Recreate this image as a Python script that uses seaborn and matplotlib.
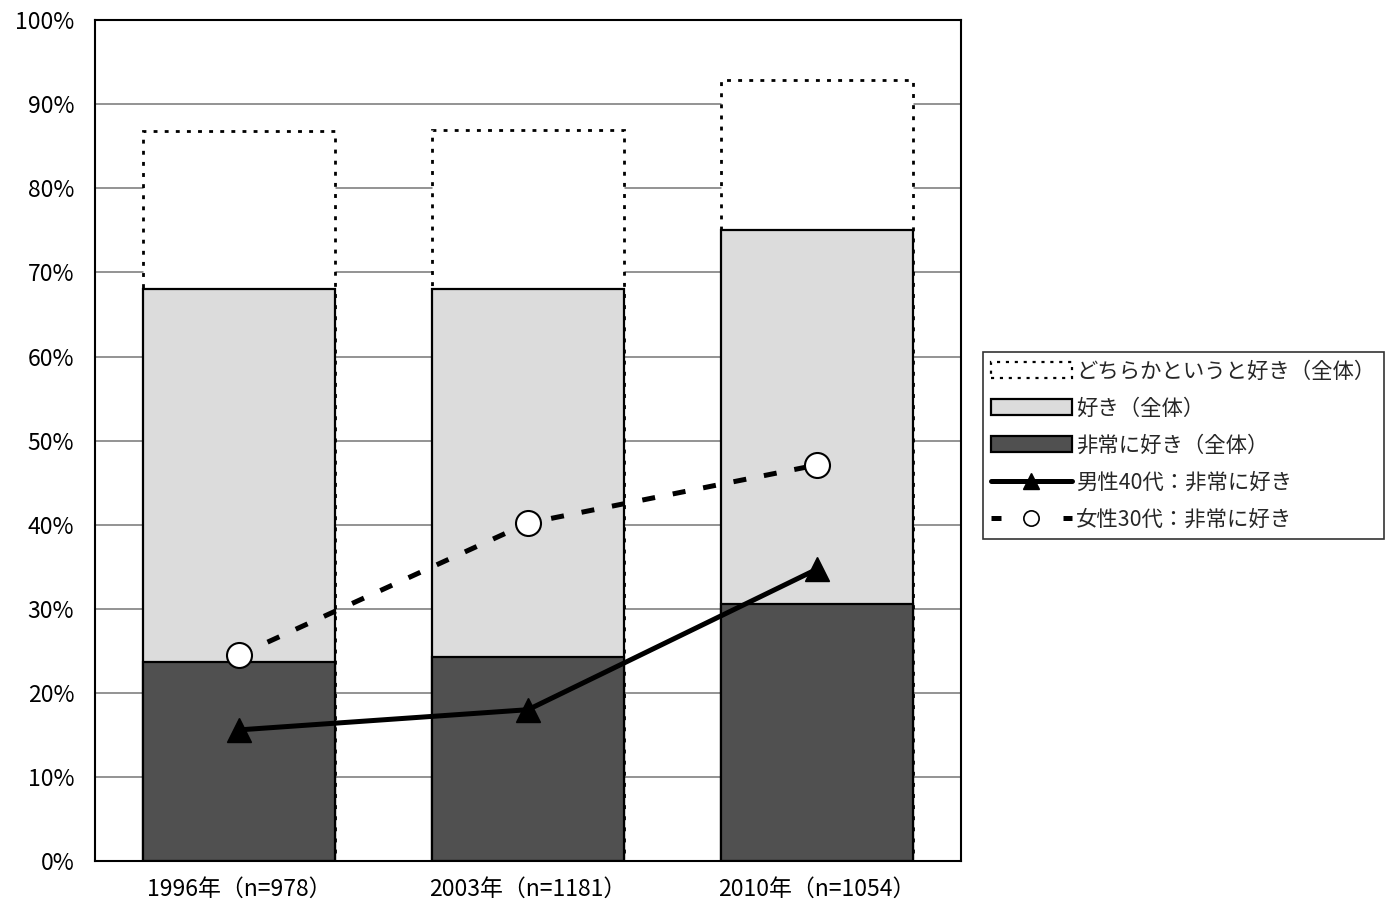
import matplotlib
matplotlib.use("Agg")
import matplotlib.pyplot as plt
import seaborn as sns
import pandas as pd
import numpy as np
from matplotlib.patches import Patch
from matplotlib.lines import Line2D
from matplotlib.ticker import FixedLocator, NullFormatter, FuncFormatter

years = ["1996年（n=978）", "2003年（n=1181）", "2010年（n=1054）"]
somewhat_like = [86.8, 87.0, 92.9]    # どちらかというと好き（全体）
like = [68.0, 68.0, 75.1]             # 好き（全体）
very_like = [23.7, 24.3, 30.6]        # 非常に好き（全体）
male_40s = [15.6, 18.0, 34.7]         # 男性40代：非常に好き
female_30s = [24.5, 40.2, 47.1]       # 女性30代：非常に好き

sns.set_theme(style="white")
plt.rcParams["font.family"] = ["Noto Sans CJK JP", "DejaVu Sans"]

fig = plt.figure(figsize=(13.97, 9.10), dpi=100)
ax = fig.add_axes([0.068, 0.0538, 0.62, 0.924])

df = pd.DataFrame({"year": years, "somewhat": somewhat_like,
                   "like": like, "very": very_like})

bw = 0.665
DOT = (0, (1.4, 2.6))
layers = [("somewhat", "#ffffff", dict(linewidth=2.0, linestyle=DOT), 2),
          ("like", "#dcdcdc", dict(linewidth=1.6), 3),
          ("very", "#505050", dict(linewidth=1.6), 4)]
for col, fc, kw, z in layers:
    n0 = len(ax.patches)
    sns.barplot(data=df, x="year", y=col, ax=ax, width=bw, color=fc,
                edgecolor="black", saturation=1, **kw)
    for p in ax.patches[n0:]:
        p.set_facecolor(fc)
        p.set_alpha(1)
        p.set_zorder(z)

xi = np.arange(len(years))
ax.plot(xi, male_40s, color="black", lw=3.6, marker="^", markersize=17,
        markerfacecolor="black", markeredgecolor="black", zorder=6)
ax.plot(xi, female_30s, color="black", lw=3.6, linestyle=(0, (2.6, 3.6)),
        dash_capstyle="butt", marker="o", markersize=18,
        markerfacecolor="white", markeredgecolor="black", markeredgewidth=1.5,
        zorder=6)

ax.set_xlim(-0.5, 2.5)
ax.set_ylim(0, 100)
ax.set_yticks(np.arange(0, 101, 10))
ax.yaxis.set_major_formatter(FuncFormatter(lambda v, p: f"{int(v)}%"))
ax.yaxis.grid(True, color="#808080", linewidth=1.2)
for gl in ax.get_ygridlines():
    gl.set_zorder(0.5)
ax.set_axisbelow(True)
ax.tick_params(axis="y", length=0, labelsize=16.5, pad=15, colors="black")

# category labels at bar centers, small ticks at the boundaries
ax.xaxis.set_major_locator(FixedLocator([0.5, 1.5]))
ax.xaxis.set_major_formatter(NullFormatter())
ax.xaxis.set_minor_locator(FixedLocator(xi))
ax.xaxis.set_minor_formatter(FuncFormatter(lambda v, p: years[int(round(v))]))
ax.tick_params(axis="x", which="major", direction="in", length=6, width=1,
               color="black")
ax.tick_params(axis="x", which="minor", length=0, labelsize=16.5, pad=12,
               colors="black")
ax.set_xlabel("")
ax.set_ylabel("")

for s in ax.spines.values():
    s.set_visible(True)
    s.set_color("black")
    s.set_linewidth(1.5)
    s.set_zorder(7)

handles = [
    Patch(facecolor="white", edgecolor="black", linestyle=DOT,
          linewidth=1.6, label="どちらかというと好き（全体）"),
    Patch(facecolor="#dcdcdc", edgecolor="black", linewidth=1.6,
          label="好き（全体）"),
    Patch(facecolor="#505050", edgecolor="black", linewidth=1.6,
          label="非常に好き（全体）"),
    Line2D([], [], color="black", lw=3.6, marker="^", markersize=12,
           label="男性40代：非常に好き"),
    Line2D([], [], color="black", lw=3.6, linestyle=(0, (2.0, 12.4)),
           dash_capstyle="butt", marker="o", markersize=11,
           markerfacecolor="white", markeredgewidth=1.2,
           label="女性30代：非常に好き"),
]
leg = fig.legend(handles=handles, loc="upper left",
                 bbox_to_anchor=(0.7035, 0.613), frameon=True, fancybox=False,
                 edgecolor="black", fontsize=15.4, handlelength=3.75,
                 handleheight=0.8, handletextpad=0.2, labelspacing=0.7,
                 borderpad=0.4, borderaxespad=0)
leg.get_frame().set_linewidth(1.2)

fig.savefig("out.png", dpi=100, facecolor="white")
